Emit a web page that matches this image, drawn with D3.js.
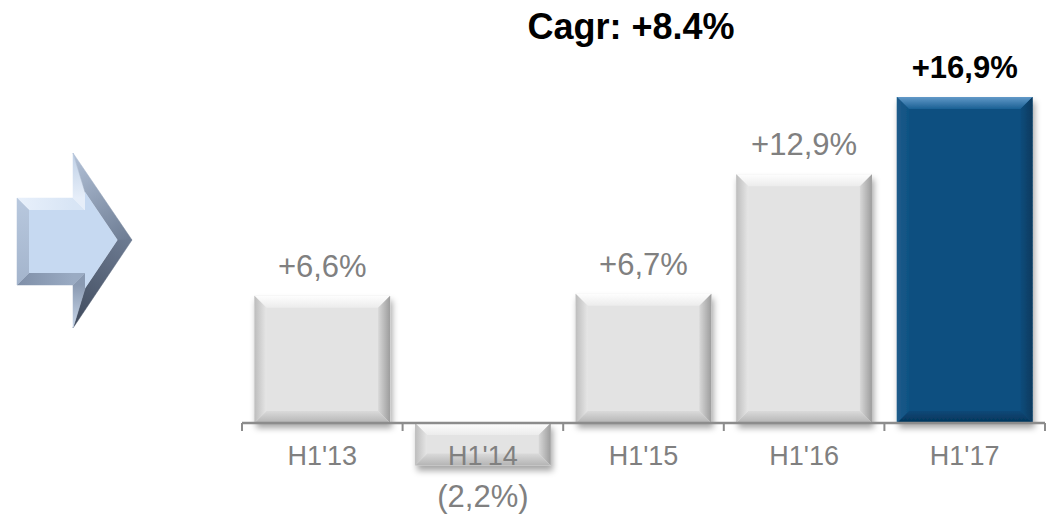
<!DOCTYPE html>
<html><head><meta charset="utf-8">
<script src="https://cdn.jsdelivr.net/npm/d3@7"></script>
<style>body{margin:0;background:#fff}svg{display:block}</style>
</head><body>
<svg id="chart" width="1046" height="517"></svg>
<script>
// Half-year growth rates
const periods = ["H1'13", "H1'14", "H1'15", "H1'16", "H1'17"];
const growth = [6.6, -2.2, 6.7, 12.9, 16.9];
const growthLabels = ["+6,6%", "(2,2%)", "+6,7%", "+12,9%", "+16,9%"];
const highlightPeriod = "H1'17";
const cagrLabel = "Cagr: +8.4%";

const svg = d3.select("#chart");
const font = "'Liberation Sans', Arial, sans-serif";

const x = d3.scaleBand().domain(periods).range([242, 1045]);
const y = d3.scaleLinear().domain([0, 16.9]).range([423, 97]);
const barW = x.bandwidth() * 0.845;
const bevel = 12;

const defs = svg.append("defs");

// soft drop shadow under the bars
const f = defs.append("filter").attr("id", "shadow")
  .attr("x", "-10%").attr("y", "-10%").attr("width", "130%").attr("height", "140%");
f.append("feDropShadow").attr("dx", 2).attr("dy", 5).attr("stdDeviation", 3)
  .attr("flood-color", "#000").attr("flood-opacity", 0.35);

// bevel colour schemes: [start, end] of each facet gradient
const schemes = {
  grey: { face: "#e3e3e3", top: ["#fefefe", "#ececec"], left: ["#bdbdbd", "#e6e6e6"],
          right: ["#d8d8d8", "#9c9c9c"], bottom: ["#dadada", "#b4b4b4"] },
  blue: { face: "#0b4f80", top: ["#6199c8", "#1b6094"], left: ["#1f5b8a", "#0e5283"],
          right: ["#0c4c7b", "#073a5f"], bottom: ["#0a4877", "#05355a"] }
};
const dirs = { top: [0, 0, 0, 1], bottom: [0, 0, 0, 1], left: [0, 0, 1, 0], right: [0, 0, 1, 0] };
Object.entries(schemes).forEach(([name, s]) => {
  Object.keys(dirs).forEach(k => {
    const g = defs.append("linearGradient").attr("id", `${name}-${k}`)
      .attr("x1", dirs[k][0]).attr("y1", dirs[k][1]).attr("x2", dirs[k][2]).attr("y2", dirs[k][3]);
    g.append("stop").attr("offset", 0).attr("stop-color", s[k][0]);
    g.append("stop").attr("offset", 1).attr("stop-color", s[k][1]);
  });
});

const bars = periods.map((p, i) => {
  const v = growth[i];
  const x0 = x(p) + (x.bandwidth() - barW) / 2;
  const x1 = x0 + barW;
  const t = y(Math.max(v, 0));
  const bt = y(Math.min(v, 0));
  return { p, v, x0, x1, t, bt, scheme: p === highlightPeriod ? "blue" : "grey" };
});

const barG = svg.append("g").attr("filter", "url(#shadow)");
const line = d3.line();
bars.forEach(d => {
  const g = barG.append("g");
  const b = Math.min(bevel, (d.bt - d.t) / 3);
  const { x0, x1, t, bt } = d;
  g.append("rect").attr("x", x0).attr("y", t).attr("width", x1 - x0).attr("height", bt - t)
    .attr("fill", schemes[d.scheme].face);
  const facets = {
    top: [[x0, t], [x1, t], [x1 - b, t + b], [x0 + b, t + b]],
    right: [[x1 - b, t + b], [x1, t], [x1, bt], [x1 - b, bt - b]],
    bottom: [[x0 + b, bt - b], [x1 - b, bt - b], [x1, bt], [x0, bt]],
    left: [[x0, t], [x0 + b, t + b], [x0 + b, bt - b], [x0, bt]]
  };
  Object.entries(facets).forEach(([k, pts]) => {
    g.append("path").attr("d", line(pts) + "Z").attr("fill", `url(#${d.scheme}-${k})`);
  });
});

// category axis with ticks at the band edges
const axisY = y(0);
const axisG = svg.append("g");
axisG.append("line").attr("x1", x.range()[0]).attr("x2", x.range()[1])
  .attr("y1", axisY).attr("y2", axisY).attr("stroke", "#8c8c8c").attr("stroke-width", 2.6);
const edges = periods.map(p => x(p)).concat([x.range()[1]]);
axisG.selectAll("line.tick").data(edges).join("line").attr("class", "tick")
  .attr("x1", d => d).attr("x2", d => d).attr("y1", axisY).attr("y2", axisY + 8)
  .attr("stroke", "#8c8c8c").attr("stroke-width", 2);
axisG.selectAll("text").data(periods).join("text")
  .attr("x", d => x(d) + x.bandwidth() / 2).attr("y", 465)
  .attr("text-anchor", "middle").attr("font-family", font).attr("font-size", 27)
  .attr("fill", "#808080").text(d => d);

// value labels
svg.append("g").selectAll("text").data(bars).join("text")
  .attr("x", d => x(d.p) + x.bandwidth() / 2)
  .attr("y", d => d.v >= 0 ? y(d.v) - 19 : y(d.v) + 42)
  .attr("text-anchor", "middle").attr("font-family", font).attr("font-size", 31)
  .attr("font-weight", d => d.p === highlightPeriod ? "bold" : "normal")
  .attr("fill", d => d.p === highlightPeriod ? "#000" : "#808080")
  .text((d, i) => growthLabels[i]);

svg.append("text").attr("x", 631).attr("y", 39).attr("text-anchor", "middle")
  .attr("font-family", font).attr("font-size", 36).attr("font-weight", "bold")
  .attr("fill", "#000").text(cagrLabel);

// bevelled block arrow on the left
const outer = [[17, 198], [73, 198], [73, 153], [132, 240], [73, 328], [73, 285], [17, 285]];
const inset = 12;
function intersect(p1, d1, p2, d2) {
  const den = d1[0] * d2[1] - d1[1] * d2[0];
  const t = ((p2[0] - p1[0]) * d2[1] - (p2[1] - p1[1]) * d2[0]) / den;
  return [p1[0] + d1[0] * t, p1[1] + d1[1] * t];
}
const n = outer.length;
const offLines = outer.map((p, i) => {
  const q = outer[(i + 1) % n];
  const dx = q[0] - p[0], dy = q[1] - p[1];
  const len = Math.hypot(dx, dy);
  const nx = -dy / len, ny = dx / len;
  return { p: [p[0] + nx * inset, p[1] + ny * inset], d: [dx, dy] };
});
const inner = outer.map((p, i) => {
  const prev = offLines[(i - 1 + n) % n], cur = offLines[i];
  return intersect(prev.p, prev.d, cur.p, cur.d);
});
const facetColors = [
  ["#e8f0fb", "#d8e5f5"], // top of body
  ["#e6eef9", "#bfd0e6"], // upper step
  ["#b3c2d8", "#6c7b92"], // upper slope of head
  ["#6d7b92", "#3f4a5c"], // lower slope of head
  ["#c9d7ea", "#8a9ab2"], // lower step
  ["#9aabc3", "#7f8fa8"], // bottom of body
  ["#a3b4cc", "#b8c8de"]  // left of body
];
const arrowG = svg.append("g");
outer.forEach((p, i) => {
  const q = outer[(i + 1) % n];
  const gid = "arrow-f" + i;
  const g = defs.append("linearGradient").attr("id", gid).attr("gradientUnits", "userSpaceOnUse")
    .attr("x1", p[0]).attr("y1", p[1]).attr("x2", q[0]).attr("y2", q[1]);
  g.append("stop").attr("offset", 0).attr("stop-color", facetColors[i][0]);
  g.append("stop").attr("offset", 1).attr("stop-color", facetColors[i][1]);
  arrowG.append("path").attr("d", line([p, q, inner[(i + 1) % n], inner[i]]) + "Z")
    .attr("fill", `url(#${gid})`).attr("stroke", `url(#${gid})`).attr("stroke-width", 0.5);
});
arrowG.append("path").attr("d", line(inner) + "Z").attr("fill", "#c6d9f1");
</script>
</body></html>
